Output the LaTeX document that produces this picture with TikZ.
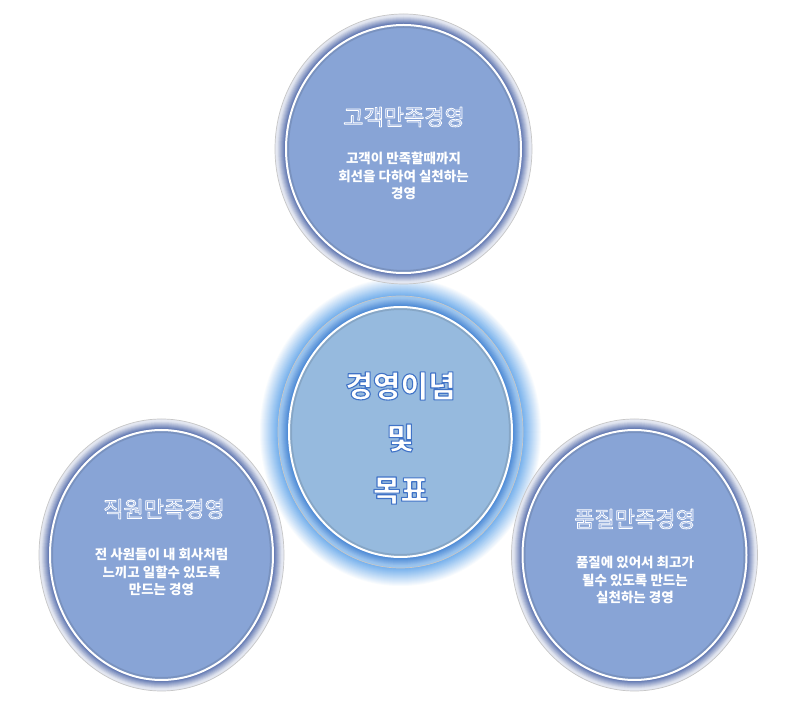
\documentclass[tikz,border=0pt]{standalone}
\usepackage{fontspec}
\newfontfamily\kr{Noto Sans CJK KR}
\usetikzlibrary{calc}
\definecolor{fillA}{RGB}{136,164,214}
\definecolor{fillC}{RGB}{150,186,222}
\definecolor{ringdark}{RGB}{70,96,164}
\definecolor{ringlight}{RGB}{238,240,246}
\definecolor{ringdarkC}{RGB}{62,126,208}
\definecolor{ringlightC}{RGB}{160,200,240}
\definecolor{glowc}{RGB}{110,172,236}
\definecolor{titlefill}{RGB}{150,176,226}
\tikzset{
  titletext/.style={font=\kr\fontsize{22}{26}\selectfont, inner sep=0pt, text=titlefill},
  bodytext/.style={font=\kr\bfseries\fontsize{13.5}{17.5}\selectfont, text=white, align=center, inner sep=0pt},
  centertext/.style={font=\kr\bfseries\fontsize{30}{52}\selectfont, align=center, inner sep=0pt, text=white},
}
% stroked text: #1 stroke colour as "r g b", #2 line width, #3 text
\newcommand\strk[3]{\special{pdf:literal direct #1 RG #2 w 1 j 2 Tr}#3\special{pdf:literal direct 0 Tr}}
% #1 name, #2 cx,cy, #3 inner rx, #4 inner ry, #5 dark ring colour, #6 light ring colour, #7 fill
\newcommand\ringedellipse[7]{%
  \coordinate (#1) at (#2);
  \foreach \i in {11,...,0}{%
    \pgfmathsetmacro\p{max(6,100-\i*10)}%
    \fill[#5!\p!#6] (#1) ellipse [x radius=#3pt+\i pt, y radius=#4pt+\i pt];
  }
  \draw[black!22, line width=0.7pt] (#1) ellipse [x radius=#3pt+11pt, y radius=#4pt+11pt];
  \fill[#7] (#1) ellipse [x radius=#3pt, y radius=#4pt];
  \draw[#7!70!black, line width=2.4pt, opacity=0.35] (#1) ellipse [x radius=#3pt-1.8pt, y radius=#4pt-1.8pt];
  \draw[white, line width=2pt] (#1) ellipse [x radius=#3pt, y radius=#4pt];
}
\begin{document}
\begin{tikzpicture}[x=1pt,y=-1pt]
\useasboundingbox (0,0) rectangle (807,708);
\fill[white] (0,0) rectangle (807,708);

% centre glow
\coordinate (cg) at (400.5,432);
\foreach \i in {30,29,...,11}{%
  \pgfmathsetmacro\q{(30-\i)*5.2}%
  \fill[glowc!\q!white] (cg) ellipse [x radius=111.5pt+\i pt, y radius=125pt+\i pt];
}

\ringedellipse{top}{403.5,149}{117.5}{124}{ringdark}{ringlight}{fillA}
\ringedellipse{left}{161.5,555}{111.5}{125}{ringdark}{ringlight}{fillA}
\ringedellipse{right}{634.5,555}{112}{125}{ringdark}{ringlight}{fillA}
\ringedellipse{mid}{400.5,432}{111.5}{125}{ringdarkC}{ringlightC}{fillC}

% titles
\node[titletext] (ttop) at (404,117) {\strk{1 1 1}{0.75}{고객만족경영}};
\node[titletext] (tleft) at (164,509) {\strk{1 1 1}{0.75}{직원만족경영}};
\node[titletext] (tright) at (635,519) {\strk{1 1 1}{0.75}{품질만족경영}};

% body texts
\node[bodytext] (btop) at (403.5,176) {고객이 만족할때까지\\회선을 다하여 실천하는\\경영};
\node[bodytext] (bleft) at (161.5,572) {전 사원들이 내 회사처럼\\느끼고 일할수 있도록\\만드는 경영};
\node[bodytext] (bright) at (635,580) {품질에 있어서 최고가\\될수 있도록 만드는\\실천하는 경영};

% centre text
\node[centertext] (tmid) at (400.5,438) {\strk{0.25 0.45 0.78}{1.1}{경영이념}\\\strk{0.25 0.45 0.78}{1.1}{및}\\\strk{0.25 0.45 0.78}{1.1}{목표}};
\end{tikzpicture}
\end{document}
